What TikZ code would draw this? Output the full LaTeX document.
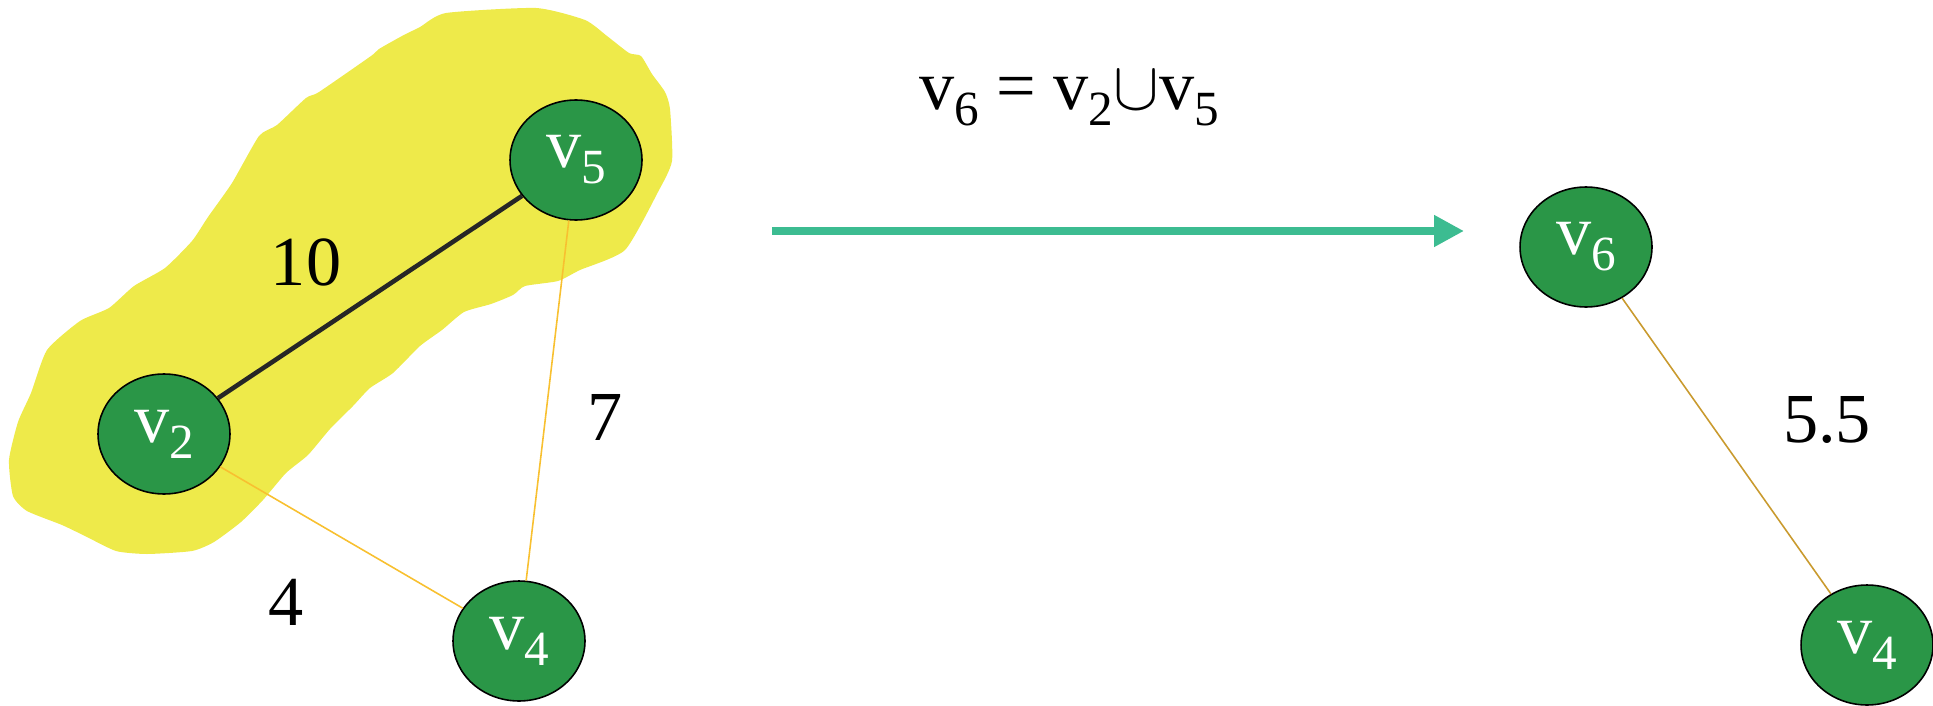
\documentclass[tikz,border=0pt]{standalone}
\usepackage{fontspec}
\setmainfont{Liberation Serif}
\usetikzlibrary{shapes.geometric,arrows.meta}
\definecolor{vgreen}{HTML}{2A9647}
\definecolor{blobyellow}{HTML}{EEEA4A}
\definecolor{edgeorange}{HTML}{F8C030}
\definecolor{edgegold}{HTML}{C99A2E}
\definecolor{arrowteal}{HTML}{3CBC91}
\newcommand{\vsub}[1]{v\raisebox{-9pt}{\fontsize{28}{28}\selectfont #1}}
\tikzset{
  vertex/.style={ellipse,draw=black,line width=0.9pt,fill=vgreen,text=white,
    minimum width=2.64cm,minimum height=2.4cm,inner sep=0pt,
    font=\fontsize{40}{40}\selectfont},
  weight/.style={font=\fontsize{40}{40}\selectfont},
  thinedge/.style={line width=0.9pt}
}
\begin{document}
\begin{tikzpicture}[x=0.02cm,y=-0.02cm]
  \useasboundingbox (0,0) rectangle (1933,706);
  % merged part
  \fill[blobyellow] plot[smooth cycle,tension=0.35] coordinates {
    (446,13) (536,8) (585,20) (607,36) (629,53) (641,56) (652,74) (665,92)
    (670,109) (672,161) (658,192) (625,250) (580,270) (558,281) (525,286)
    (513,295) (491,304) (464,312) (442,330) (420,346) (393,373) (370,388)
    (353,406) (330,429) (308,455) (286,473) (263,500) (241,522) (214,542)
    (192,551) (147,554) (116,551) (85,536) (62,525) (27,511) (13,496)
    (9,460) (18,422) (31,393) (47,350) (80,321) (109,308) (134,286)
    (165,268) (192,241) (208,217) (232,183) (259,136) (277,125) (306,98)
    (319,92) (371,56) (379,49) (402,36) (420,27)};
  \node[vertex] (v2) at (164,434) {\vsub{2}};
  \node[vertex] (v5) at (576,160) {\vsub{5}};
  \node[vertex] (v4) at (519,641) {\vsub{4}};
  \node[vertex] (v6) at (1586,247) {\vsub{6}};
  \node[vertex] (v4b) at (1867,645) {\vsub{4}};
  \draw[line width=2.6pt,black!85] (v2) -- (v5);
  \draw[thinedge,edgeorange] (v2) -- (v4);
  \draw[thinedge,edgeorange] (v5) -- (v4);
  \draw[thinedge,edgegold] (v6) -- (v4b);
  \node[weight] (w10) at (306,262) {10};
  \node[weight] (w7) at (605,417) {7};
  \node[weight] (w4) at (286,602) {4};
  \node[weight] (w55) at (1827,420) {5.5};
  % merge step
  \coordinate (a1) at (772,231);
  \coordinate (a2) at (1464,231);
  \draw[arrowteal,line width=4.5pt,-{Triangle[length=17pt,width=17pt]}] (a1) -- (a2);
  \node[weight,anchor=base] (eq) at (1069,110)
    {\vsub{6} = \vsub{2}\resizebox{26pt}{!}{$\cup$}\vsub{5}};
\end{tikzpicture}
\end{document}
